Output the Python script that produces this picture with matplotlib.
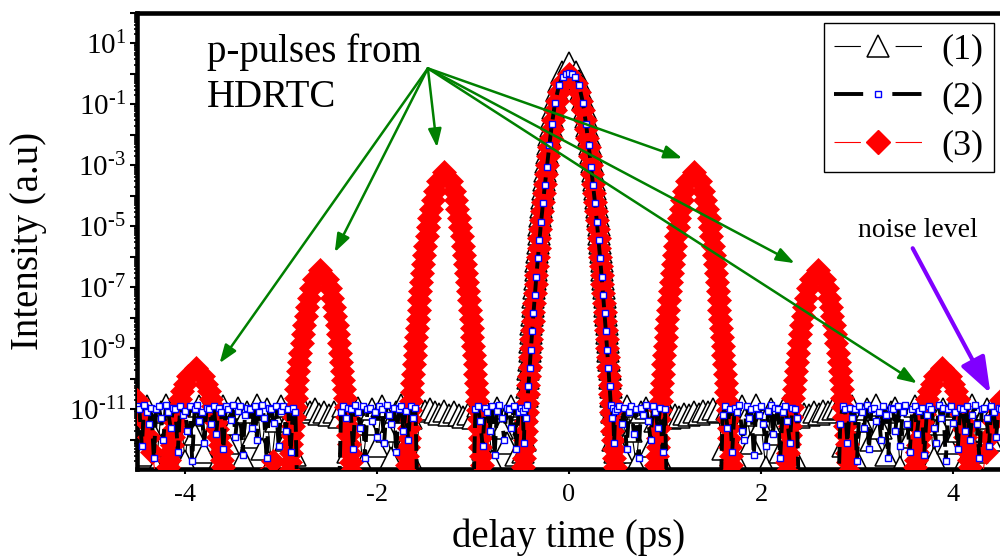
import numpy as np
import matplotlib
matplotlib.use('Agg')
import matplotlib.pyplot as plt
from matplotlib.lines import Line2D
from matplotlib.ticker import LogLocator, FuncFormatter, NullFormatter, MultipleLocator

plt.rcParams['font.family'] = ['Liberation Serif']
plt.rcParams['mathtext.fontset'] = 'custom'
plt.rcParams['mathtext.rm'] = 'Liberation Serif'
plt.rcParams['mathtext.it'] = 'Liberation Serif:italic'
plt.rcParams['mathtext.bf'] = 'Liberation Serif:bold'
plt.rcParams['axes.unicode_minus'] = False
plt.rcParams['lines.scale_dashes'] = False

# ---------------- main pulse (t = 0), right half, |t| in ps ----------------
core_t = [0.0725, 0.1026, 0.1257, 0.1451, 0.1622, 0.1777, 0.1919, 0.2052, 0.2176, 0.2294, 0.2406,
          0.2513, 0.2616, 0.2714, 0.2810, 0.2902, 0.2991, 0.3078, 0.3162, 0.3244, 0.3325, 0.3403,
          0.3479, 0.3554, 0.3627, 0.3699, 0.3770, 0.3839, 0.3907, 0.3974, 0.4039, 0.4104, 0.4168,
          0.4230, 0.4292, 0.4353, 0.4413, 0.4472, 0.4531, 0.4588, 0.4645, 0.4702, 0.4757, 0.4812]
# (3) red, log10 intensity
red_core_peak = 0.0
red_core = [-0.3, -0.6, -0.9, -1.2, -1.5, -1.8, -2.1, -2.4, -2.7, -3.0, -3.3, -3.6, -3.9, -4.2,
            -4.5, -4.8, -5.1, -5.4, -5.7, -6.0, -6.3, -6.6, -6.9, -7.2, -7.5, -7.8, -8.1, -8.4,
            -8.7, -9.0, -9.3, -9.6, -9.9, -10.2, -10.5, -10.8, -11.1, -11.4, -11.7, -12.0, -12.3,
            -12.6, -12.9, -13.2]
# (1) black, log10 intensity
black_core_peak = 0.35
black_core = [0.06, -0.24, -0.53, -0.83, -1.12, -1.42, -1.71, -2.01, -2.30, -2.60, -2.89, -3.19,
              -3.48, -3.77, -4.07, -4.36, -4.66, -4.95, -5.25, -5.54, -5.84, -6.13, -6.43, -6.72,
              -7.02, -7.31, -7.60, -7.90, -8.19, -8.49, -8.78, -9.08, -9.37, -9.67, -9.96, -10.26,
              -10.55, -10.84, -11.1, -12.0, -10.9, -11.5, -12.4, -11.0]
# (2) blue, own sampling
blue_core_t = [0.03, 0.065, 0.1026, 0.1451, 0.1777, 0.2052, 0.2294, 0.2513, 0.2714, 0.2902, 0.3078,
               0.3244, 0.3403, 0.3554, 0.3699, 0.3839, 0.3974, 0.4104, 0.4230, 0.4353, 0.4472,
               0.4588, 0.4702, 0.4812]
blue_core_peak = 0.02
blue_core = [0.0, -0.1, -0.35, -0.95, -1.65, -2.35, -3.05, -3.65, -4.25, -4.85, -5.45, -6.05,
             -6.65, -7.25, -7.85, -8.45, -9.05, -9.65, -10.25, -10.85, -11.3, -10.95, -12.1, -11.05]

# ---------------- p-pulses of (3), right halves ----------------
sat_t = [0.0690, 0.0976, 0.1195, 0.1380, 0.1543, 0.1690, 0.1826, 0.1952, 0.2070, 0.2182, 0.2289,
         0.2390, 0.2488, 0.2582, 0.2673, 0.2760, 0.2845, 0.2928, 0.3008, 0.3086, 0.3162, 0.3237,
         0.3309, 0.3381, 0.3450, 0.3519, 0.3586, 0.3651, 0.3716, 0.3780, 0.3842, 0.3904, 0.3964,
         0.4024]
sat1_centre, sat1_peak = 1.30, -3.23
sat1 = [-3.53, -3.83, -4.13, -4.43, -4.73, -5.03, -5.33, -5.63, -5.93, -6.23, -6.53, -6.83, -7.13,
        -7.43, -7.73, -8.03, -8.33, -8.63, -8.93, -9.23, -9.53, -9.83, -10.13, -10.43, -10.73,
        -11.03, -11.33, -11.63, -11.93, -12.23, -12.53, -12.83, -13.13, -13.43]
sat2_centre, sat2_peak = 2.59, -6.44
sat2 = [-6.74, -7.04, -7.34, -7.64, -7.94, -8.24, -8.54, -8.84, -9.14, -9.44, -9.74, -10.04,
        -10.34, -10.64, -10.94, -11.24, -11.54, -11.84, -12.14, -12.44, -12.74, -13.04, -13.34,
        -13.64, -13.94, -14.24, -14.54, -14.84, -15.14, -15.44, -15.74, -16.04, -16.34, -16.64]
sat3_centre, sat3_peak = 3.89, -9.66
sat3_t = [0.0791, 0.1118, 0.1369, 0.1581, 0.1768, 0.1936, 0.2092, 0.2236, 0.2372, 0.2500, 0.2622,
          0.2739, 0.2850, 0.2958, 0.3062, 0.3162]
sat3 = [-9.91, -10.16, -10.41, -10.66, -10.91, -11.16, -11.41, -11.66, -11.91, -12.16, -12.41,
        -12.66, -12.91, -13.16, -13.41, -13.66]
# rising tail at the frame edges and a stray point
red_edge_t = [4.30, 4.34, 4.38, 4.42, 4.46, 4.50]
red_edge = [-13.4, -12.4, -11.9, -11.4, -11.0, -10.7]
red_extra_t = [-3.08]
red_extra = [-12.7]

# ---------------- noise floor ----------------
t_black_left = np.round(np.arange(-4.50, -0.499, 0.05), 3)
t_black_right = np.round(np.arange(0.50, 4.501, 0.05), 3)
black_left = [-11.0, -12.5, -10.9, -11.6, -12.9, -11.1, -10.85, -12.2, -11.4, -10.95, -12.7, -11.2,
              -11.8, -10.9, -12.4, -11.05, -13.0, -11.3, -10.9, -12.1, -11.5, -10.95, -12.6, -11.1,
              -11.9, -10.85, -12.3, -11.0, -12.8, -11.4, -10.9, -12.0, -11.2, -12.5,
              -11.0, -11.05, -11.1, -11.0, -11.15, -11.1, -11.2, -11.1, -11.25,
              -10.9, -12.4, -11.2, -10.95, -12.8, -11.5, -11.0, -12.2, -10.9, -11.7, -12.6, -11.1,
              -10.85, -12.0, -11.3, -12.9,
              -11.0, -11.05, -11.0, -11.1, -11.15, -11.05, -11.2, -11.1, -11.2, -11.25, -11.15, -11.3,
              -10.9, -12.3, -11.1, -12.7, -10.95, -11.6, -12.1, -10.9, -12.5, -11.2]
black_right = [-11.0, -12.4, -10.9, -11.7, -12.8, -11.1, -10.95, -12.2, -11.4, -12.6, -10.9,
               -11.3, -11.2, -11.25, -11.15, -11.2, -11.1, -11.15, -11.05, -11.1, -11.0, -11.05,
               -12.3, -11.0, -11.6, -12.7, -10.9, -11.2, -12.1, -10.85, -11.5, -12.9, -11.0, -11.8,
               -12.4, -10.9, -11.3, -12.6,
               -11.25, -11.15, -11.2, -11.1, -11.15, -11.05, -11.1, -11.0, -10.95,
               -12.2, -11.1, -10.9, -12.7, -11.4, -11.0, -12.0, -10.85, -11.6, -12.5, -11.1, -10.95,
               -12.9, -11.3, -11.9, -10.9, -12.3, -11.2, -10.95, -12.6, -11.5, -11.0, -12.1, -10.9,
               -11.7, -12.8, -11.1, -10.85, -12.4, -11.3, -11.0, -12.0, -10.9, -11.6]

t_blue_left = np.round(np.arange(-4.500, -0.499, 0.025), 3)
t_blue_right = np.round(np.arange(0.500, 4.501, 0.025), 3)
below = -14.5   # under the plotted range
blue_left = ([-10.9, -11.0, -12.2, -10.85, -11.1, -11.5, -10.95, -12.6, -11.0, -10.9, -11.3, -12.0,
              -10.85, -11.1, -11.6, -10.95, -11.0, -12.4, -10.9, -11.2, -11.05, -11.7, -10.9, -12.7,
              -11.0, -10.85, -11.4, -11.1, -12.1, -10.95, -11.0, -11.5, -10.9, -11.8, -10.95, -11.1,
              -12.3, -10.9, -11.0, -11.35, -10.85, -11.9, -11.05, -10.9, -12.5, -11.2, -10.95, -11.0,
              -11.6, -10.9, -12.0, -11.1, -10.85, -11.3, -12.6, -10.95, -11.0, -11.45, -10.9, -12.2,
              -11.05, -10.9, -11.7, -11.0, -12.4, -10.95, -11.1]
             + [below] * 18
             + [-11.1, -10.9, -11.3, -10.95, -11.0, -12.3, -10.85, -11.1, -11.6, -10.9, -12.6, -11.0,
                -10.95, -11.4, -11.1, -11.9, -10.9, -11.0, -12.1, -10.85, -11.2, -11.5, -10.95, -12.4,
                -11.0, -10.9, -11.7, -11.05, -12.0, -10.9, -11.3, -10.95]
             + [below] * 24
             + [-11.0, -10.9, -11.4, -12.2, -10.95, -11.1, -11.7, -10.9, -12.5, -11.05, -10.85, -11.3,
                -12.0, -10.95, -11.0, -11.6, -10.9, -12.3, -11.1, -10.95])
blue_right = ([-11.0, -10.9, -11.5, -10.95, -12.3, -11.1, -10.9, -11.8, -11.0, -12.6, -10.95, -11.2,
               -10.85, -11.4, -12.0, -10.9, -11.1, -11.6, -10.95, -12.4, -11.0]
              + [below] * 23
              + [-11.2, -10.9, -11.6, -11.0, -12.4, -10.95, -11.1, -10.85, -11.7, -12.0, -10.9, -11.3,
                 -11.0, -12.5, -10.95, -11.2, -10.9, -11.5, -12.2, -11.05, -10.85, -11.8, -10.95, -11.0,
                 -12.6, -11.1, -10.9, -11.4, -12.1, -10.95, -11.0, -11.3]
              + [below] * 17
              + [-11.5, -10.9, -11.0, -12.1, -10.95, -11.3, -11.0, -12.7, -10.9, -11.1, -11.6, -10.85,
                 -12.3, -11.0, -10.95, -11.4, -11.1, -12.0, -10.9, -11.2, -12.6, -10.95, -11.0, -11.7,
                 -10.9, -12.2, -11.1, -10.85, -11.5, -12.4, -11.0, -10.9, -11.8, -11.05, -10.95, -12.5,
                 -11.2, -10.9, -11.0, -11.6, -12.1, -10.85, -11.3, -10.95, -12.7, -11.0, -10.9, -11.45,
                 -11.1, -12.3, -10.95, -11.0, -11.7, -10.9, -12.0, -11.2, -10.85, -11.5, -12.6, -11.0,
                 -10.95, -11.3, -12.2, -10.9, -11.1, -11.9, -10.95, -11.0])

# ---------------- annotations (ps, log10 intensity) ----------------
green_from = (-1.47, 0.18)
green_tips_t = [-3.64, -2.44, -1.375, 1.18, 2.35, 3.625]
green_tips_log = [-9.49, -5.85, -2.41, -2.77, -6.21, -10.15]
noise_from = (3.58, -5.72)
noise_tip = (4.39, -10.48)


def sym(half_t, half_log, peak, centre=0.0):
    ht = np.asarray(half_t, dtype=float)
    hl = np.asarray(half_log, dtype=float)
    t = np.r_[centre - ht[::-1], centre, centre + ht]
    l = np.r_[hl[::-1], peak, hl]
    return t, l


def build_red():
    ts, ls = [], []
    t, l = sym(core_t, red_core, red_core_peak)
    ts.append(t); ls.append(l)
    for c, p, ht, hl in [(sat1_centre, sat1_peak, sat_t, sat1),
                         (sat2_centre, sat2_peak, sat_t, sat2),
                         (sat3_centre, sat3_peak, sat3_t, sat3)]:
        for cc in (-c, c):
            t, l = sym(ht, hl, p, cc)
            ts.append(t); ls.append(l)
    ts += [np.array(red_edge_t), -np.array(red_edge_t), np.array(red_extra_t)]
    ls += [np.array(red_edge), np.array(red_edge), np.array(red_extra)]
    t = np.concatenate(ts)
    l = np.concatenate(ls)
    o = np.argsort(t, kind='stable')
    return t[o], l[o]


def build_pair(t_l, v_l, ht, hl, peak, t_r, v_r):
    tc, lc = sym(ht, hl, peak)
    return np.r_[t_l, tc, t_r], np.r_[v_l, lc, v_r]


def dispchart():
    t1, log1 = build_pair(t_black_left, black_left, core_t, black_core, black_core_peak,
                          t_black_right, black_right)
    t2, log2 = build_pair(t_blue_left, blue_left, blue_core_t, blue_core, blue_core_peak,
                          t_blue_right, blue_right)
    t3, log3 = build_red()

    fig = plt.figure(figsize=(10, 5.59), dpi=100)
    ax = fig.add_axes([0.137, 0.161, 0.864, 0.816])

    ax.plot(t1, 10.0 ** log1, color='black', lw=0.8, marker='^', ms=15.5,
            mfc='white', mec='black', mew=1.1, zorder=2)
    ax.plot(t3, 10.0 ** log3, color='red', lw=0.8, marker='D', ms=12,
            mfc='red', mec='red', mew=0.5, zorder=3)
    ax.plot(t2, 10.0 ** log2, color='black', lw=2.8, ls=(0, (12, 6)), marker='s', ms=4.5,
            mfc='white', mec='blue', mew=1.0, zorder=4)

    ax.set_yscale('log')
    ax.set_xlim(-4.5, 4.5)
    ax.set_ylim(10 ** -12.96, 1e2)

    ax.xaxis.set_major_locator(MultipleLocator(2))
    ax.yaxis.set_major_locator(LogLocator(base=10, numticks=40))
    ax.yaxis.set_minor_locator(LogLocator(base=10, subs=np.arange(2, 10), numticks=200))
    ax.yaxis.set_minor_formatter(NullFormatter())

    def fmt(v, pos):
        e = int(round(np.log10(v)))
        return r'$10^{\text{%d}}$' % e if e % 2 else ''
    ax.yaxis.set_major_formatter(FuncFormatter(fmt))

    ax.tick_params(axis='both', which='major', direction='out', width=1.5, top=False, right=False)
    ax.tick_params(axis='y', which='major', length=5, labelsize=21, pad=3)
    ax.tick_params(axis='y', which='minor', direction='out', length=2.5, width=1.2, right=False)
    ax.tick_params(axis='x', which='major', length=3.5, labelsize=19, pad=7)
    ax.tick_params(axis='x', which='minor', bottom=False, top=False)

    for s in ['left', 'bottom', 'top']:
        ax.spines[s].set_linewidth(3.3)
    ax.spines['right'].set_visible(False)

    ax.set_xlabel('delay time (ps)', fontsize=28, va='center')
    ax.xaxis.set_label_coords(0.5, -0.149)
    ax.set_ylabel('Intensity (a.u)', fontsize=28, va='center', ha='center')
    ax.yaxis.set_label_coords(-0.126, 0.5)

    green = '#008000'
    for tt, ll in zip(green_tips_t, green_tips_log):
        ax.annotate('', xy=(tt, 10.0 ** ll), xytext=(green_from[0], 10.0 ** green_from[1]),
                    arrowprops=dict(arrowstyle='-|>,head_length=0.55,head_width=0.2',
                                    color=green, lw=1.8, mutation_scale=20,
                                    shrinkA=0, shrinkB=0), zorder=6)
    ax.annotate('', xy=(noise_tip[0], 10.0 ** noise_tip[1]),
                xytext=(noise_from[0], 10.0 ** noise_from[1]),
                arrowprops=dict(arrowstyle='-|>,head_length=1.1,head_width=0.4',
                                color='#8000ff', lw=3.0, mutation_scale=20,
                                shrinkA=0, shrinkB=0), zorder=6)

    ax.text(0.081, 0.793, 'p-pulses from\nHDRTC', transform=ax.transAxes, fontsize=28,
            va='baseline', ha='left', linespacing=1.29, zorder=7)
    ax.text(0.834, 0.508, 'noise level', transform=ax.transAxes, fontsize=20,
            va='baseline', ha='left', zorder=7)

    h1 = Line2D([], [], color='black', lw=0.8, ls=(0, (19, 25)), marker='^', ms=15.5,
                mfc='white', mec='black', mew=1.1)
    h2 = Line2D([], [], color='black', lw=2.8, ls=(0, (21, 21)), marker='s', ms=4.5,
                mfc='white', mec='blue', mew=1.0)
    h3 = Line2D([], [], color='red', lw=0.8, ls=(0, (19, 25)), marker='D', ms=12,
                mfc='red', mec='red')
    leg = ax.legend([h1, h2, h3], ['(1)', '(2)', '(3)'], loc='upper right',
                    bbox_to_anchor=(0.992, 0.977), fontsize=26, handlelength=2.44,
                    handletextpad=0.55, labelspacing=0.4, borderpad=0.28, borderaxespad=0,
                    frameon=True, fancybox=False, edgecolor='black', framealpha=1, numpoints=1)
    leg.get_frame().set_linewidth(1.0)
    leg.set_zorder(10)

    fig.savefig('out.png', dpi=100)


if __name__ == "__main__":
    dispchart()
